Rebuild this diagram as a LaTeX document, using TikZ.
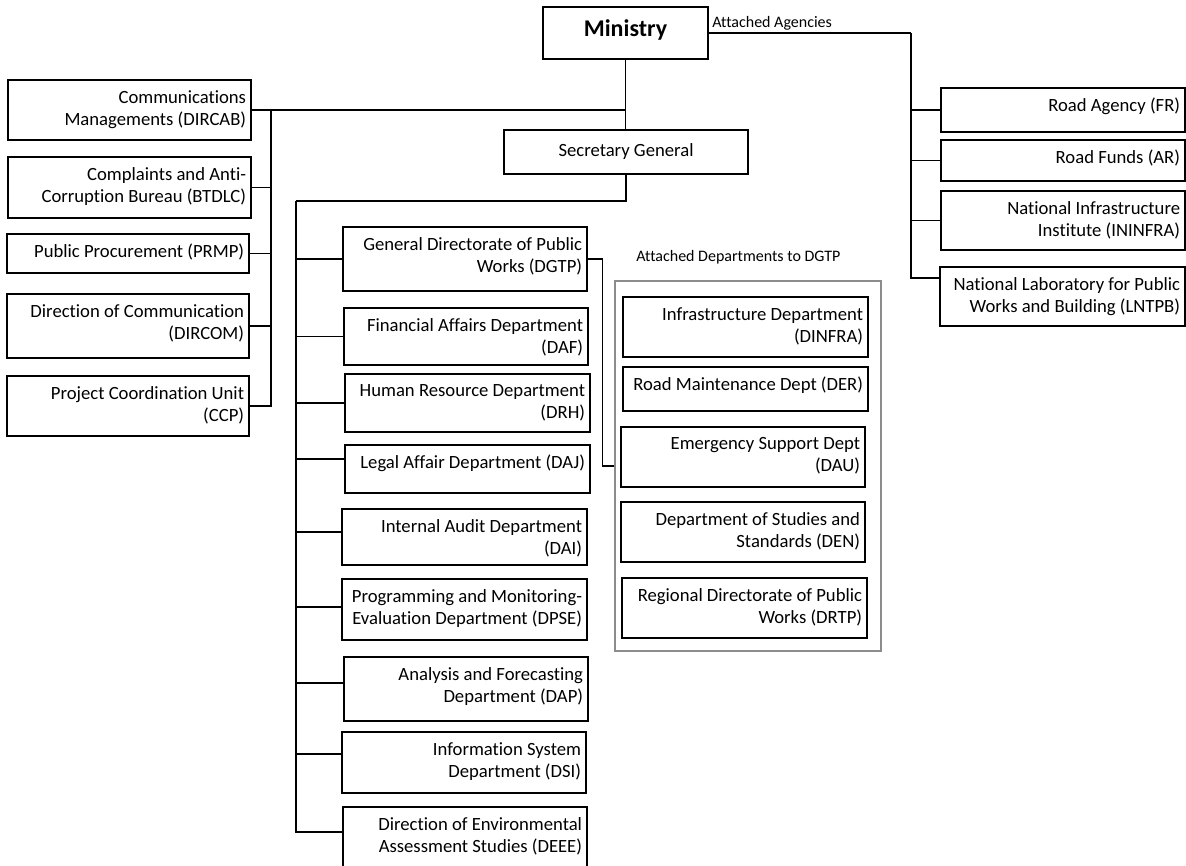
\documentclass[tikz,border=0pt]{standalone}
\usepackage{fontspec}
\setmainfont{Carlito}[Ligatures=NoCommon]

\tikzset{
  unit/.style 2 args={draw, line width=1pt, inner sep=0pt, minimum width=#1*0.75pt, minimum height=#2*0.75pt},
  unittext/.style={anchor=north east, align=right, inner sep=0pt, xshift=-4pt, yshift=-8pt, font=\fontsize{14}{16.5}\selectfont},
  headtext/.style={anchor=north, inner sep=0pt, yshift=-10pt, font=\fontsize{18}{20}\selectfont\bfseries},
  note/.style={anchor=west, inner sep=0pt, font=\fontsize{12}{14}\selectfont},
  link/.style={line width=1pt},
}

\begin{document}
\begin{tikzpicture}[x=0.75pt, y=-0.75pt]
    \useasboundingbox (0,0) rectangle (1186,865);

    % Top
    \node[unit={165}{52}, label={[headtext]north:Ministry}] (ministry) at (625.5,33) {};
    \node[unit={244}{44}, font=\fontsize{14}{16.5}\selectfont] (sg) at (626,152) {Secretary General};
    \node[note] (agencynote) at (712,23) {Attached Agencies};

    % Left units
    \node[unit={243}{60}, label={[unittext]north east:Communications\\Managements (DIRCAB)}] (dircab) at (129.5,110) {};
    \node[unit={243}{61}, label={[unittext]north east:Complaints and Anti-\\Corruption Bureau (BTDLC)}] (btdlc) at (129.5,187.5) {};
    \node[unit={242}{39}, label={[unittext]north east:Public Procurement (PRMP)}] (prmp) at (128,253.5) {};
    \node[unit={242}{64}, label={[unittext]north east:Direction of Communication\\(DIRCOM)}] (dircom) at (128,326) {};
    \node[unit={242}{60}, label={[unittext]north east:Project Coordination Unit\\(CCP)}] (ccp) at (128,406) {};

    % Departments under the Secretary General
    \node[unit={244}{64}, label={[unittext]north east:General Directorate of Public\\Works (DGTP)}] (dgtp) at (465,259) {};
    \node[unit={244}{57}, label={[unittext]north east:Financial Affairs Department\\(DAF)}] (daf) at (466,336.5) {};
    \node[unit={245}{58}, label={[unittext]north east:Human Resource Department\\(DRH)}] (drh) at (467.5,403) {};
    \node[unit={245}{48}, label={[unittext]north east:Legal Affair Department (DAJ)}] (daj) at (467.5,469) {};
    \node[unit={245}{56}, label={[unittext]north east:Internal Audit Department\\(DAI)}] (dai) at (464.5,537) {};
    \node[unit={245}{61}, label={[unittext]north east:Programming and Monitoring-\\Evaluation Department (DPSE)}] (dpse) at (464.5,609.5) {};
    \node[unit={244}{64}, label={[unittext]north east:Analysis and Forecasting\\Department (DAP)}] (dap) at (466,689) {};
    \node[unit={244}{61}, label={[unittext]north east:Information System\\Department (DSI)}] (dsi) at (464,762.5) {};
    \node[unit={244}{63}, label={[unittext]north east:Direction of Environmental\\Assessment Studies (DEEE)}] (deee) at (465,838.5) {};

    % Departments attached to DGTP
    \node[note] (dgtpnote) at (636,257) {Attached Departments to DGTP};
    \node[draw=black!45, line width=1.8pt, inner sep=0pt, minimum width=266*0.75pt, minimum height=370*0.75pt] (dgtpframe) at (748,466) {};
    \node[unit={245}{60}, label={[unittext]north east:Infrastructure Department\\(DINFRA)}] (dinfra) at (745.5,327) {};
    \node[unit={245}{44}, label={[unittext]north east:Road Maintenance Dept (DER)}] (der) at (745.5,389) {};
    \node[unit={244}{60}, label={[unittext]north east:Emergency Support Dept\\(DAU)}] (dau) at (743,457) {};
    \node[unit={244}{60}, label={[unittext]north east:Department of Studies and\\Standards (DEN)}] (den) at (743,532) {};
    \node[unit={245}{60}, label={[unittext]north east:Regional Directorate of Public\\Works (DRTP)}] (drtp) at (744.5,608) {};

    % Attached agencies
    \node[unit={244}{44}, label={[unittext]north east:Road Agency (FR)}] (fr) at (1063,110) {};
    \node[unit={244}{41}, label={[unittext]north east:Road Funds (AR)}] (ar) at (1063,160.5) {};
    \node[unit={244}{59}, label={[unittext]north east:National Infrastructure\\Institute (ININFRA)}] (ininfra) at (1063,220.5) {};
    \node[unit={245}{59}, label={[unittext]north east:National Laboratory for Public\\Works and Building (LNTPB)}] (lntpb) at (1062.5,296.5) {};

    % Bus points
    \coordinate (lbus) at (271,110);
    \coordinate (mbus) at (296,201);
    \coordinate (abus) at (911,33);

    % Links
    \draw[link] (ministry.south) -- (ministry.south |- sg.north);
    \draw[link] (dircab.east) -- (ministry.south |- dircab.east);
    \draw[link] (btdlc.east) -| (lbus);
    \draw[link] (prmp.east) -| (lbus);
    \draw[link] (dircom.east) -| (lbus);
    \draw[link] (ccp.east) -| (lbus);

    \draw[link] (sg.south) |- (mbus);
    \draw[link] (dgtp.west) -| (mbus);
    \draw[link] (daf.west) -| (mbus);
    \draw[link] (drh.west) -| (mbus);
    \draw[link] ([yshift=7.5pt]daj.west) -| (mbus);
    \draw[link] ([yshift=3.7pt]dai.west) -| (mbus);
    \draw[link] ([yshift=2pt]dpse.west) -| (mbus);
    \draw[link] ([yshift=4.5pt]dap.west) -| (mbus);
    \draw[link] ([yshift=6.4pt]dsi.west) -| (mbus);
    \draw[link] ([yshift=4.9pt]deee.west) -| (mbus);

    \draw[link] (dgtp.east) -- ++(15,0) |- (dgtpframe.west);

    \draw[link] (ministry.east) -- (abus);
    \draw[link] (fr.west) -| (abus);
    \draw[link] (ar.west) -| (abus);
    \draw[link] (ininfra.west) -| (abus);
    \draw[link] ([yshift=13.9pt]lntpb.west) -| (abus);
\end{tikzpicture}
\end{document}
